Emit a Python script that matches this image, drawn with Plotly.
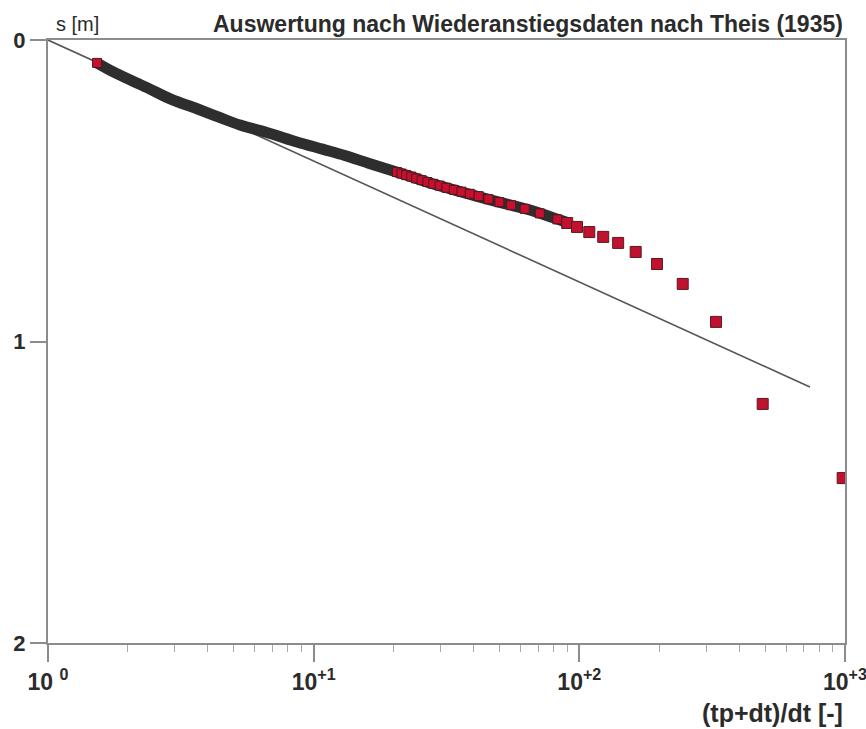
import plotly.graph_objects as go

# Theis straight-line fit (start / end)
fit_x = [1.0, 738.0]
fit_y = [0.0, 1.151]

# dense early measurements (read as a band centre line)
band_x = [1.53, 1.8, 2.36, 2.9, 3.64, 4.4, 5.28, 6.8, 8.65, 10.8, 13.1, 16.0, 19.4, 23.0, 27.4, 34.0, 42.3, 52.0, 65.2, 80.0, 92.0]
band_y = [0.076, 0.110, 0.158, 0.196, 0.228, 0.256, 0.282, 0.309, 0.338, 0.362, 0.383, 0.408, 0.431, 0.452, 0.474, 0.498, 0.521, 0.542, 0.564, 0.590, 0.608]

# late-time recovery points (red squares)
red_x = [1.53, 20.6, 21.4, 22.3, 23.3, 24.3, 25.5, 26.8, 28.2, 29.8, 31.6, 33.7, 36.0, 38.7, 41.8, 45.5, 50.0, 55.4, 62.3, 71.0, 82.7,
         90.0, 98.0, 109.0, 123.0, 140.0, 163.0, 196.0, 245.0, 327.0, 490.0, 980.0]
red_y = [0.076, 0.438, 0.443, 0.448, 0.453, 0.459, 0.465, 0.471, 0.477, 0.483, 0.490, 0.497, 0.503, 0.510, 0.518, 0.528, 0.538, 0.548, 0.560, 0.575, 0.595,
         0.607, 0.620, 0.637, 0.653, 0.673, 0.703, 0.743, 0.809, 0.935, 1.207, 1.453]

x_ticks = [1, 10, 100, 1000]
x_ticktext = ["10 <sup>0</sup>", "10<sup>+1</sup>", "10<sup>+2</sup>", "10<sup>+3</sup>"]
x_minor = [2, 3, 4, 5, 6, 7, 8, 9, 20, 30, 40, 50, 60, 70, 80, 90, 200, 300, 400, 500, 600, 700, 800, 900]
y_ticks = [0, 1, 2]
y_ticktext = ["0", "1", "2"]

title_text = "Auswertung nach Wiederanstiegsdaten nach Theis (1935)"
y_label = "s [m]"
x_label = "(tp+dt)/dt [-]"

axis_col = "#8c8c8c"
txt_col = "#2b2b2b"
font_fam = "Liberation Sans, Arial, sans-serif"

fig = go.Figure()
fig.add_trace(go.Scatter(x=fit_x, y=fit_y, mode="lines",
                         line=dict(color="#555555", width=1.6), hoverinfo="skip"))
fig.add_trace(go.Scatter(x=band_x, y=band_y, mode="lines", line_shape="spline",
                         line=dict(color="#2e2e2e", width=11), hoverinfo="skip"))
n_dense = 21
fig.add_trace(go.Scatter(x=red_x[:n_dense], y=red_y[:n_dense], mode="markers",
                         marker=dict(symbol="square", size=9, color="#c8102e",
                                     line=dict(color="#4a1a20", width=1)), hoverinfo="skip"))
fig.add_trace(go.Scatter(x=red_x[n_dense:], y=red_y[n_dense:], mode="markers",
                         marker=dict(symbol="square", size=11, color="#c0122e",
                                     line=dict(color="#5a1a22", width=1)), hoverinfo="skip"))

fig.update_layout(
    width=866, height=729,
    margin=dict(l=48, r=21, t=40, b=86, autoexpand=False),
    paper_bgcolor="white", plot_bgcolor="white",
    showlegend=False,
    font=dict(family=font_fam, color=txt_col),
    xaxis=dict(type="log", range=[0, 3], showgrid=False, zeroline=False, automargin=False,
               showline=True, mirror=True, linecolor=axis_col, linewidth=2,
               ticks="outside", ticklen=17, tickwidth=2, tickcolor=axis_col,
               tickvals=x_ticks, ticktext=x_ticktext, ticklabeloverflow="allow",
               tickfont=dict(size=23, color=txt_col, weight="bold"),
               minor=dict(ticks="outside", ticklen=7, tickwidth=1, tickcolor="#aaaaaa",
                          tickvals=x_minor, showgrid=False)),
    yaxis=dict(range=[2, 0], showgrid=False, zeroline=False, automargin=False,
               showline=True, mirror=True, linecolor=axis_col, linewidth=2,
               ticks="outside", ticklen=16, tickwidth=2, tickcolor=axis_col,
               tickvals=y_ticks, ticktext=y_ticktext, ticklabeloverflow="allow",
               tickfont=dict(size=22, color=txt_col, weight="bold")),
)

fig.add_annotation(text=title_text, xref="paper", yref="paper", x=1.0, y=1.0,
                   xanchor="right", yanchor="bottom", yshift=1, showarrow=False,
                   font=dict(size=23, color=txt_col, family=font_fam, weight="bold"))
fig.add_annotation(text=y_label, xref="paper", yref="paper", x=0.0, y=1.0,
                   xanchor="left", yanchor="bottom", xshift=6, yshift=3, showarrow=False,
                   font=dict(size=20, color=txt_col, family=font_fam))
fig.add_annotation(text=x_label, xref="paper", yref="paper", x=1.0, y=0.0,
                   xanchor="right", yanchor="top", yshift=-54, showarrow=False,
                   font=dict(size=25, color=txt_col, family=font_fam, weight="bold"))

fig.write_html("out.html")
